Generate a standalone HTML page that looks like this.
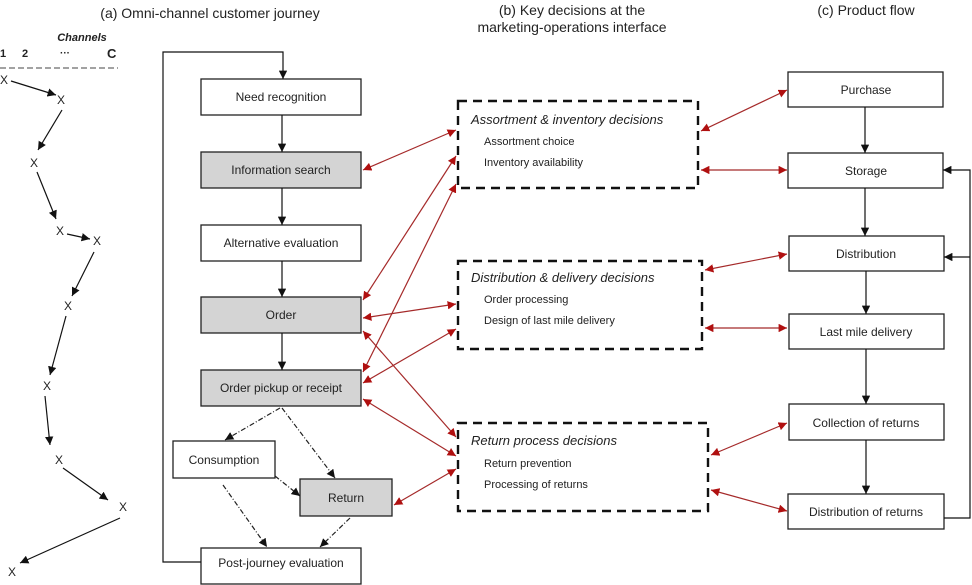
<!DOCTYPE html>
<html><head><meta charset="utf-8"><style>
body{margin:0;background:#fff}
svg{display:block}
text{font-family:"Liberation Sans",sans-serif;fill:#222}
</style></head><body>
<svg width="972" height="585" viewBox="0 0 972 585" xmlns="http://www.w3.org/2000/svg">
<defs>
<marker id="k" viewBox="0 0 10 10" refX="10" refY="5" markerWidth="7" markerHeight="7" orient="auto-start-reverse"><path d="M0,0L10,5L0,10z" fill="#111"/></marker>
<marker id="r" viewBox="0 0 10 10" refX="10" refY="5" markerWidth="7" markerHeight="7" orient="auto-start-reverse"><path d="M0,0L10,5L0,10z" fill="#b01010"/></marker>
</defs>
<!-- titles -->
<text x="210" y="18" font-size="14" text-anchor="middle">(a)   Omni-channel customer journey</text>
<text x="572" y="15" font-size="14" text-anchor="middle">(b)  Key decisions at the</text>
<text x="572" y="32" font-size="14" text-anchor="middle">marketing-operations interface</text>
<text x="866" y="15" font-size="14" text-anchor="middle">(c) Product flow</text>
<!-- channels -->
<text x="82" y="41" font-size="11" font-style="italic" font-weight="bold" text-anchor="middle">Channels</text>
<text x="0" y="57" font-size="11" font-weight="bold">1</text>
<text x="22" y="57" font-size="11" font-weight="bold">2</text>
<text x="60" y="56" font-size="10" font-weight="bold">···</text>
<text x="107" y="58" font-size="13" font-weight="bold">C</text>
<line x1="0" y1="68" x2="118" y2="68" stroke="#444" stroke-dasharray="6,3"/>
<g font-size="12" text-anchor="middle">
<text x="4" y="84">X</text><text x="61" y="104">X</text><text x="34" y="167">X</text>
<text x="60" y="235">X</text><text x="97" y="245">X</text><text x="68" y="310">X</text>
<text x="47" y="390">X</text><text x="59" y="464">X</text><text x="123" y="511">X</text>
<text x="12" y="576">X</text>
</g>
<g stroke="#111" stroke-width="1.2" marker-end="url(#k)">
<line x1="11" y1="81" x2="56" y2="95"/>
<line x1="62" y1="110" x2="38" y2="150"/>
<line x1="37" y1="172" x2="56" y2="219"/>
<line x1="67" y1="234" x2="90" y2="239"/>
<line x1="94" y1="252" x2="72" y2="296"/>
<line x1="66" y1="316" x2="50" y2="375"/>
<line x1="45" y1="396" x2="50" y2="445"/>
<line x1="63" y1="468" x2="108" y2="500"/>
<line x1="120" y1="518" x2="20" y2="563"/>
</g>
<!-- column a boxes -->
<g stroke="#222" stroke-width="1.3">
<rect x="201" y="79" width="160" height="36" fill="#fff"/>
<rect x="201" y="152" width="160" height="36" fill="#d4d4d4"/>
<rect x="201" y="225" width="160" height="36" fill="#fff"/>
<rect x="201" y="297" width="160" height="36" fill="#d4d4d4"/>
<rect x="201" y="370" width="160" height="36" fill="#d4d4d4"/>
<rect x="173" y="441" width="102" height="37" fill="#fff"/>
<rect x="300" y="479" width="92" height="37" fill="#d4d4d4"/>
<rect x="201" y="548" width="160" height="36" fill="#fff"/>
</g>
<g font-size="12" text-anchor="middle">
<text x="281" y="101">Need recognition</text>
<text x="281" y="174">Information search</text>
<text x="281" y="247">Alternative evaluation</text>
<text x="281" y="319">Order</text>
<text x="281" y="392">Order pickup or receipt</text>
<text x="224" y="464">Consumption</text>
<text x="346" y="502">Return</text>
<text x="281" y="567">Post-journey evaluation</text>
</g>
<g stroke="#111" stroke-width="1.2" fill="none">
<polyline points="201,562 163,562 163,52 283,52 283,79" marker-end="url(#k)"/>
<line x1="282" y1="115" x2="282" y2="152" marker-end="url(#k)"/>
<line x1="282" y1="188" x2="282" y2="225" marker-end="url(#k)"/>
<line x1="282" y1="261" x2="282" y2="297" marker-end="url(#k)"/>
<line x1="282" y1="333" x2="282" y2="370" marker-end="url(#k)"/>
</g>
<g stroke="#222" stroke-width="1.2" fill="none" stroke-dasharray="5,2,1,2" marker-end="url(#k)">
<line x1="280" y1="408" x2="225" y2="440"/>
<line x1="282" y1="408" x2="335" y2="478"/>
<line x1="275" y1="476" x2="300" y2="496"/>
<line x1="223" y1="485" x2="267" y2="547"/>
<line x1="350" y1="518" x2="320" y2="547"/>
</g>
<!-- middle dashed boxes -->
<g stroke="#111" stroke-width="2.4" fill="#fff" stroke-dasharray="9,6">
<rect x="458" y="101" width="240" height="87"/>
<rect x="458" y="261" width="244" height="88"/>
<rect x="458" y="423" width="250" height="88"/>
</g>
<g font-size="12">
<text x="471" y="124" font-style="italic" font-size="13">Assortment &amp; inventory decisions</text>
<text x="484" y="145" font-size="11">Assortment choice</text>
<text x="484" y="166" font-size="11">Inventory availability</text>
<text x="471" y="282" font-style="italic" font-size="13">Distribution &amp; delivery decisions</text>
<text x="484" y="303" font-size="11">Order processing</text>
<text x="484" y="324" font-size="11">Design of last mile delivery</text>
<text x="471" y="445" font-style="italic" font-size="13">Return process decisions</text>
<text x="484" y="467" font-size="11">Return prevention</text>
<text x="484" y="488" font-size="11">Processing of returns</text>
</g>
<!-- right boxes -->
<g stroke="#222" stroke-width="1.3" fill="#fff">
<rect x="788" y="72" width="155" height="35"/>
<rect x="788" y="153" width="155" height="35"/>
<rect x="789" y="236" width="155" height="35"/>
<rect x="789" y="314" width="155" height="35"/>
<rect x="789" y="404" width="155" height="36"/>
<rect x="788" y="494" width="156" height="35"/>
</g>
<g font-size="12" text-anchor="middle">
<text x="866" y="94">Purchase</text>
<text x="866" y="175">Storage</text>
<text x="866" y="258">Distribution</text>
<text x="866" y="336">Last mile delivery</text>
<text x="866" y="427">Collection of returns</text>
<text x="866" y="516">Distribution of returns</text>
</g>
<g stroke="#111" stroke-width="1.2" fill="none">
<line x1="865" y1="107" x2="865" y2="153" marker-end="url(#k)"/>
<line x1="865" y1="188" x2="865" y2="236" marker-end="url(#k)"/>
<line x1="866" y1="271" x2="866" y2="314" marker-end="url(#k)"/>
<line x1="866" y1="349" x2="866" y2="404" marker-end="url(#k)"/>
<line x1="866" y1="440" x2="866" y2="494" marker-end="url(#k)"/>
<polyline points="944,518 970,518 970,170 943,170" marker-end="url(#k)"/>
<line x1="970" y1="257" x2="944" y2="257" marker-end="url(#k)"/>
</g>
<!-- red arrows -->
<g stroke="#a52a2a" stroke-width="1.2" marker-start="url(#r)" marker-end="url(#r)">
<line x1="363" y1="170" x2="456" y2="130"/>
<line x1="363" y1="300" x2="456" y2="156"/>
<line x1="363" y1="372" x2="456" y2="184"/>
<line x1="363" y1="318" x2="456" y2="304"/>
<line x1="363" y1="383" x2="456" y2="329"/>
<line x1="363" y1="331" x2="456" y2="437"/>
<line x1="363" y1="399" x2="456" y2="456"/>
<line x1="394" y1="505" x2="456" y2="469"/>
<line x1="701" y1="131" x2="787" y2="90"/>
<line x1="701" y1="170" x2="787" y2="170"/>
<line x1="705" y1="270" x2="787" y2="254"/>
<line x1="705" y1="328" x2="787" y2="328"/>
<line x1="711" y1="455" x2="787" y2="423"/>
<line x1="711" y1="490" x2="787" y2="511"/>
</g>
</svg>
</body></html>
